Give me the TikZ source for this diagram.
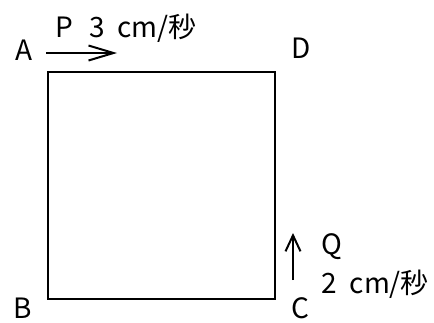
\documentclass[tikz,border=0pt]{standalone}
\usepackage{fontspec}
\setmainfont{Noto Sans CJK JP}
\usetikzlibrary{arrows.meta}
\begin{document}
\begin{tikzpicture}[x=1pt,y=-1pt,
  lbl/.style={font=\fontsize{28}{32}\selectfont, inner sep=0pt, anchor=base},
  edge/.style={line width=2.2pt},
  mvh/.style={line width=2pt, -{Straight Barb[length=25pt,width=15pt,line width=2pt]}},
  mvv/.style={line width=2pt, -{Straight Barb[length=16pt,width=15pt,line width=2pt]}}]
\useasboundingbox (0,0) rectangle (434,322);
\coordinate (a) at (48,72);
\coordinate (b) at (48,299);
\coordinate (c) at (275,299);
\coordinate (d) at (275,72);
\draw[edge] (a) -- (b) -- (c) -- (d) -- cycle;
\node[lbl] (A) at (24,60) {A};
\node[lbl] (B) at (23,318) {B};
\node[lbl] (C) at (300,318) {C};
\node[lbl] (D) at (301,58) {D};
\coordinate (p0) at (46,53);
\coordinate (p1) at (117,53);
\draw[mvh] (p0) -- (p1);
\node[lbl, anchor=base west] (P) at (55,37) {P\hspace{17pt}3\hspace{12pt}cm/秒};
\coordinate (q0) at (293,280);
\coordinate (q1) at (293,233);
\draw[mvv] (q0) -- (q1);
\node[lbl] (Q) at (332,254) {Q};
\node[lbl, anchor=base west] (S) at (321,293) {2\hspace{13pt}cm/秒};
\end{tikzpicture}
\end{document}
